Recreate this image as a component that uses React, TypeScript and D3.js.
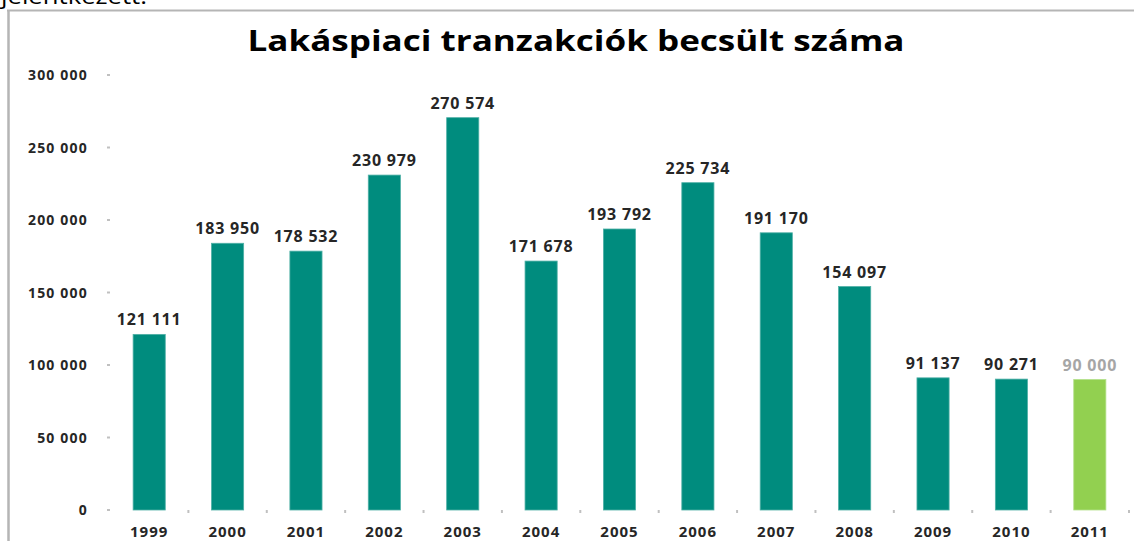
import React from "react";
import * as d3 from "d3";

const years = ["1999","2000","2001","2002","2003","2004","2005","2006","2007","2008","2009","2010","2011"];
const values = [121111,183950,178532,230979,270574,171678,193792,225734,191170,154097,91137,90271,90000];
const estimated = [false,false,false,false,false,false,false,false,false,false,false,false,true];
const yTicks = [0,50000,100000,150000,200000,250000,300000];
const title = "Lakáspiaci tranzakciók becsült száma";
const topText = "jelentkezett.";

const W = 1134, H = 541;
const fmt = d3.formatLocale({ decimal: ",", thousands: " ", grouping: [3], currency: ["", ""] }).format(",d");

export default function App() {
  const x = d3.scaleBand<string>().domain(years).range([110, 1129]).paddingInner(0.59).paddingOuter(0.295);
  const y = d3.scaleLinear().domain([0, 300000]).range([510, 75]);
  const font = "'Open Sans', 'DejaVu Sans', sans-serif";
  const boundaries = years.map((yr) => (x(yr) as number) - (x.step() - x.bandwidth()) / 2).concat([1129]);
  return (
    <svg width={W} height={H} style={{ position: "fixed", left: 0, top: 0, background: "#fff" }} fontFamily={font}>
      <rect x={0} y={0} width={W} height={H} fill="#fff" />
      <text x={1} y={4} fontSize={21} fill="#000" textLength={146} lengthAdjust="spacingAndGlyphs">{topText}</text>
      <line x1={7} x2={W} y1={10.5} y2={10.5} stroke="#b5b5b5" strokeWidth={2} />
      <line x1={8.5} x2={8.5} y1={10} y2={H} stroke="#b5b5b5" strokeWidth={2.5} />
      <text x={576} y={51} textAnchor="middle" fontSize={28} fontWeight={700} fill="#000" textLength={657} lengthAdjust="spacingAndGlyphs">{title}</text>
      {yTicks.map((t) => (
        <g key={t}>
          <text x={88} y={y(t) + 5} textAnchor="end" fontSize={14} fontWeight={700} fill="#262626" letterSpacing={1.2}>{fmt(t)}</text>
          <line x1={107} x2={110} y1={y(t)} y2={y(t)} stroke="#c0c0c0" strokeWidth={2} />
        </g>
      ))}
      {boundaries.slice(1).map((b, i) => (
        <line key={i} x1={b} x2={b} y1={510} y2={513} stroke="#c0c0c0" strokeWidth={2} />
      ))}
      {years.map((yr, i) => {
        const bx = x(yr) as number;
        const by = y(values[i]);
        return (
          <g key={yr}>
            <rect x={bx} y={by} width={x.bandwidth()} height={510 - by} fill={estimated[i] ? "#92d050" : "#008c7e"} stroke={estimated[i] ? "#b4e08a" : "#4fb0a6"} strokeWidth={0.8} />
            <text x={bx + x.bandwidth() / 2} y={by - 9} textAnchor="middle" fontSize={16} fontWeight={700} fill={estimated[i] ? "#a6a6a6" : "#262626"} letterSpacing={0.8}>{fmt(values[i])}</text>
            <text x={bx + x.bandwidth() / 2} y={537} textAnchor="middle" fontSize={15} fontWeight={700} fill="#262626" letterSpacing={1}>{yr}</text>
          </g>
        );
      })}
    </svg>
  );
}
